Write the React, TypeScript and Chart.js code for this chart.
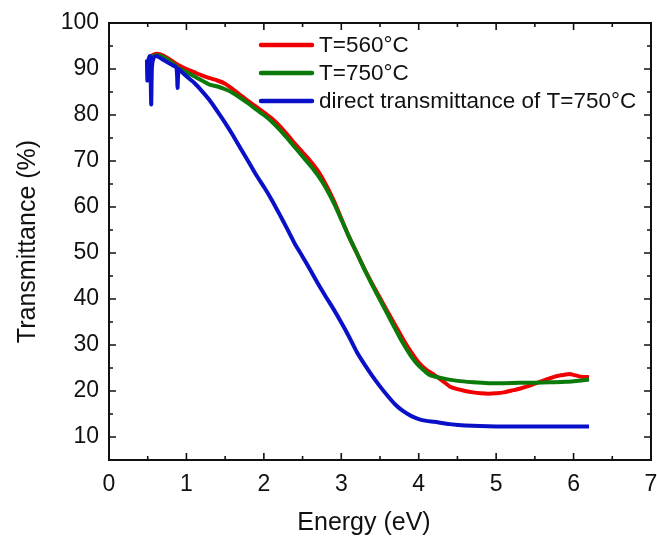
import React, { useEffect, useRef } from "react";
import { Chart, registerables } from "chart.js";

Chart.register(...registerables);

// ---- Data ----
const seriesLabels = ["T=560°C", "T=750°C", "direct transmittance of T=750°C"];
const seriesColors = ["#f00000", "#0a7a0a", "#0a10c8"];
const xTitle = "Energy (eV)";
const yTitle = "Transmittance (%)";

const energy560 = [0.52, 0.56, 0.62, 0.7, 0.8, 0.9, 1.0, 1.1, 1.2, 1.3, 1.4, 1.5, 1.6, 1.7, 1.8, 1.9, 2.0, 2.1, 2.2, 2.3, 2.4, 2.5, 2.6, 2.7, 2.8, 2.9, 3.0, 3.1, 3.2, 3.3, 3.4, 3.5, 3.6, 3.7, 3.8, 3.9, 4.0, 4.1, 4.2, 4.3, 4.4, 4.5, 4.6, 4.7, 4.8, 4.9, 5.0, 5.1, 5.2, 5.3, 5.4, 5.5, 5.6, 5.7, 5.8, 5.9, 5.95, 6.0, 6.1, 6.2];
const trans560 = [92.3, 93.0, 93.3, 92.9, 91.9, 90.8, 90.0, 89.3, 88.6, 88.0, 87.5, 86.8, 85.6, 84.3, 83.0, 81.8, 80.6, 79.3, 77.7, 75.8, 73.8, 71.9, 70.0, 67.8, 64.9, 61.5, 57.5, 53.5, 50.0, 46.5, 43.3, 40.2, 37.2, 34.2, 31.2, 28.5, 26.2, 24.6, 23.5, 22.3, 21.0, 20.4, 20.0, 19.7, 19.5, 19.4, 19.5, 19.7, 20.1, 20.5, 21.0, 21.6, 22.2, 22.8, 23.3, 23.6, 23.7, 23.5, 23.1, 23.0];

const energy750 = [0.52, 0.56, 0.62, 0.7, 0.8, 0.9, 1.0, 1.1, 1.2, 1.3, 1.4, 1.5, 1.6, 1.7, 1.8, 1.9, 2.0, 2.1, 2.2, 2.3, 2.4, 2.5, 2.6, 2.7, 2.8, 2.9, 3.0, 3.1, 3.2, 3.3, 3.4, 3.5, 3.6, 3.7, 3.8, 3.9, 4.0, 4.1, 4.15, 4.3, 4.5, 4.7, 4.9, 5.1, 5.3, 5.5, 5.7, 5.9, 6.1, 6.2];
const trans750 = [92.0, 92.7, 93.0, 92.6, 91.5, 90.2, 89.3, 88.4, 87.5, 86.6, 86.2, 85.6, 84.8, 83.7, 82.5, 81.2, 80.0, 78.6, 76.9, 75.0, 73.0, 71.0, 69.0, 66.8, 64.2, 61.0, 57.3, 53.5, 50.0, 46.4, 43.0, 39.8, 36.6, 33.4, 30.3, 27.6, 25.5, 24.0, 23.4, 22.8, 22.2, 21.9, 21.7, 21.7, 21.8, 21.8, 21.9, 22.0, 22.3, 22.5];

const energyDirect = [0.49, 0.495, 0.5, 0.53, 0.545, 0.555, 0.58, 0.62, 0.7, 0.8, 0.87, 0.885, 0.9, 0.95, 1.0, 1.1, 1.2, 1.3, 1.4, 1.5, 1.6, 1.7, 1.8, 1.9, 2.0, 2.1, 2.2, 2.3, 2.4, 2.5, 2.6, 2.7, 2.8, 2.9, 3.0, 3.1, 3.2, 3.3, 3.4, 3.5, 3.6, 3.7, 3.8, 3.9, 4.0, 4.1, 4.2, 4.4, 4.6, 5.0, 5.5, 6.0, 6.2];
const transDirect = [92.0, 87.5, 91.5, 92.8, 82.3, 90.5, 92.6, 92.8, 92.0, 91.0, 90.3, 85.9, 89.9, 89.2, 88.4, 87.0, 85.2, 83.2, 80.8, 78.3, 75.6, 72.7, 69.9, 67.0, 64.4, 61.6, 58.5, 55.3, 52.0, 49.2, 46.3, 43.3, 40.5, 37.8, 34.9, 31.8, 28.5, 25.8, 23.3, 21.0, 18.9, 17.0, 15.6, 14.6, 13.9, 13.5, 13.3, 12.8, 12.5, 12.3, 12.3, 12.3, 12.3];

const xTickValues = [0, 1, 2, 3, 4, 5, 6, 7];
const yTickValues = [10, 20, 30, 40, 50, 60, 70, 80, 90, 100];
const xMinorTicks = [0.5, 1.5, 2.5, 3.5, 4.5, 5.5, 6.5];
const yMinorTicks = [5, 15, 25, 35, 45, 55, 65, 75, 85, 95];

const FONT = "'Liberation Sans', Arial, sans-serif";

const toPoints = (xs: number[], ys: number[]) => xs.map((x, i) => ({ x, y: ys[i] }));

const framePlugin = {
  id: "frameTicks",
  afterDatasetsDraw(chart: any) {
    const { ctx, chartArea: a, scales } = chart;
    const xs = scales.x;
    const ys = scales.y;
    ctx.save();
    ctx.strokeStyle = "#111";
    ctx.lineWidth = 2;
    ctx.strokeRect(a.left, a.top, a.right - a.left, a.bottom - a.top);
    ctx.lineWidth = 1.6;
    const drawX = (vals: number[], len: number) => {
      vals.forEach((v) => {
        const p = xs.getPixelForValue(v);
        ctx.beginPath();
        ctx.moveTo(p, a.bottom);
        ctx.lineTo(p, a.bottom - len);
        ctx.moveTo(p, a.top);
        ctx.lineTo(p, a.top + len);
        ctx.stroke();
      });
    };
    const drawY = (vals: number[], len: number) => {
      vals.forEach((v) => {
        const p = ys.getPixelForValue(v);
        ctx.beginPath();
        ctx.moveTo(a.left, p);
        ctx.lineTo(a.left + len, p);
        ctx.moveTo(a.right, p);
        ctx.lineTo(a.right - len, p);
        ctx.stroke();
      });
    };
    drawX(xTickValues, 7);
    drawX(xMinorTicks, 4);
    drawY(yTickValues, 7);
    drawY(yMinorTicks, 4);
    ctx.restore();
  },
};

const legendPlugin = {
  id: "insideLegend",
  afterDraw(chart: any) {
    const { ctx } = chart;
    ctx.save();
    ctx.font = `22.5px ${FONT}`;
    ctx.textBaseline = "middle";
    ctx.fillStyle = "#111";
    const rows = [45, 73, 101];
    seriesLabels.forEach((lbl, i) => {
      ctx.strokeStyle = seriesColors[i];
      ctx.lineWidth = 4.5;
      ctx.lineCap = "round";
      ctx.beginPath();
      ctx.moveTo(261, rows[i]);
      ctx.lineTo(312, rows[i]);
      ctx.stroke();
      ctx.fillText(lbl, 319, rows[i] + 1);
    });
    // x-axis title (slightly left of centre, as in the reference)
    ctx.font = `25px ${FONT}`;
    ctx.textAlign = "center";
    ctx.fillText(xTitle, 364, 523);
    ctx.restore();
  },
};

export default function App() {
  const ref = useRef<HTMLCanvasElement | null>(null);
  useEffect(() => {
    if (!ref.current) return;
    const mk = (i: number, data: { x: number; y: number }[], order: number) => ({
      label: seriesLabels[i],
      data,
      borderColor: seriesColors[i],
      backgroundColor: seriesColors[i],
      borderWidth: 4,
      pointRadius: 0,
      tension: 0.2,
      fill: false,
      order,
    });
    const chart = new Chart(ref.current, {
      type: "line",
      data: {
        datasets: [
          mk(0, toPoints(energy560, trans560), 3),
          mk(1, toPoints(energy750, trans750), 2),
          mk(2, toPoints(energyDirect, transDirect), 1),
        ],
      },
      options: {
        animation: false,
        responsive: false,
        devicePixelRatio: 1,
        layout: { padding: { top: 23, right: 6, left: 0, bottom: 0 } },
        plugins: { legend: { display: false }, tooltip: { enabled: false } },
        scales: {
          x: {
            type: "linear",
            min: 0,
            max: 7,
            afterBuildTicks: (s: any) => {
              s.ticks = xTickValues.map((v) => ({ value: v }));
            },
            afterFit: (s: any) => {
              s.height = 79;
              s.paddingLeft = 0;
              s.paddingRight = 0;
            },
            grid: { display: false, drawTicks: false },
            border: { display: false },
            ticks: {
              color: "#111",
              font: { family: FONT, size: 23 },
              padding: 11,
              maxRotation: 0,
              autoSkip: false,
            },
          },
          y: {
            type: "linear",
            min: 5,
            max: 100,
            afterBuildTicks: (s: any) => {
              s.ticks = yTickValues.map((v) => ({ value: v }));
            },
            afterFit: (s: any) => {
              s.width = 109;
              s.paddingTop = 0;
              s.paddingBottom = 0;
            },
            grid: { display: false, drawTicks: false },
            border: { display: false },
            ticks: {
              color: "#111",
              font: { family: FONT, size: 23 },
              padding: 10,
              autoSkip: false,
            },
            title: {
              display: true,
              text: yTitle,
              color: "#111",
              font: { family: FONT, size: 25 },
              padding: { top: 13, bottom: 0 },
            },
          },
        },
      },
      plugins: [framePlugin, legendPlugin],
    } as any);
    return () => chart.destroy();
  }, []);
  return (
    <div style={{ position: "fixed", left: 0, top: 0, width: 657, height: 539, background: "#fff" }}>
      <canvas ref={ref} width={657} height={539} style={{ width: 657, height: 539, display: "block" }} />
    </div>
  );
}
